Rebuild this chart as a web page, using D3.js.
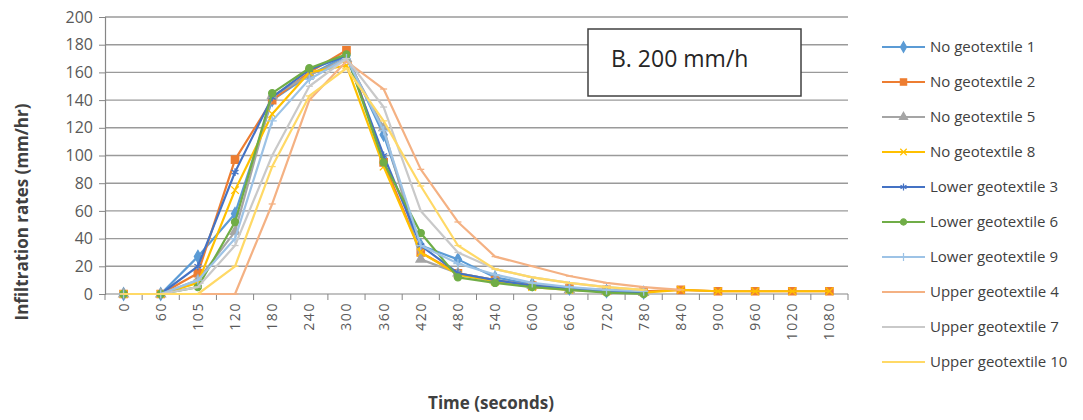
<!DOCTYPE html>
<html><head><meta charset="utf-8">
<script src="https://cdn.jsdelivr.net/npm/d3@7"></script>
<style>body{margin:0;background:#fff;} svg{display:block;font-family:"Open Sans",sans-serif;}</style>
</head><body>
<script>
const categories = ["0","60","105","120","180","240","300","360","420","480","540","600","660","720","780","840","900","960","1020","1080"];
const yTicks = [0,20,40,60,80,100,120,140,160,180,200];

const noGeo1   = [0,0,27,58,140,158,172,115,35,25,12,7,4,2,1,null,null,null,null,null];
const noGeo2   = [0,0,15,97,140,160,176,95,30,15,10,6,4,3,2,3,2,2,2,2];
const noGeo5   = [0,0,10,45,143,158,170,120,25,15,10,6,3,2,1,null,null,null,null,null];
const noGeo8   = [0,0,8,75,130,160,165,92,30,14,9,5,3,2,1,3,2,2,2,2];
const lower3   = [0,0,20,88,142,162,172,100,35,15,10,6,4,2,1,null,null,null,null,null];
const lower6   = [0,0,5,52,145,163,173,95,44,12,8,5,3,1,0,null,null,null,null,null];
const lower9   = [0,0,10,40,125,155,170,118,35,22,14,8,5,3,2,null,null,null,null,null];
const upper4   = [0,0,0,0,65,140,168,148,90,52,27,20,13,8,5,3,null,null,null,null];
const upper7   = [0,0,5,35,100,150,170,135,60,30,18,12,8,5,3,null,null,null,null,null];
const upper10  = [0,0,0,20,92,143,163,125,78,35,18,12,8,5,3,null,null,null,null,null];

const seriesNames = ["No geotextile 1","No geotextile 2","No geotextile 5","No geotextile 8","Lower geotextile 3","Lower geotextile 6","Lower geotextile 9","Upper geotextile 4","Upper geotextile 7","Upper geotextile 10"];
const seriesValues = [noGeo1,noGeo2,noGeo5,noGeo8,lower3,lower6,lower9,upper4,upper7,upper10];
const seriesColors = ["#5B9BD5","#ED7D31","#A5A5A5","#FFC000","#4472C4","#70AD47","#9DC3E6","#F4B183","#C9C9C9","#FFD966"];
const seriesMarkers = ["diamond","square","triangle","x","asterisk","circle","plus","dash","dash","dash"];

const W = 1083, H = 420;
const svg = d3.select("body").append("svg").attr("width", W).attr("height", H);

const x = d3.scaleBand().domain(categories).range([105, 848]);
const y = d3.scaleLinear().domain([0, 200]).range([294, 17]);

// gridlines
svg.append("g").selectAll("line").data(yTicks.filter(d => d > 0)).join("line")
  .attr("x1", 105).attr("x2", 848)
  .attr("y1", d => y(d)).attr("y2", d => y(d))
  .attr("stroke", "#9A9A9A").attr("stroke-width", 1.4);

// y axis
const yAxis = svg.append("g").attr("transform", "translate(105,0)")
  .call(d3.axisLeft(y).tickValues(yTicks).tickSize(6).tickPadding(6));
yAxis.select(".domain").attr("stroke", "#868686").attr("stroke-width", 1.2);
yAxis.selectAll(".tick line").attr("stroke", "#868686");
yAxis.selectAll("text").attr("font-size", 16).attr("fill", "#595959").attr("font-family", "Open Sans");

// x axis
const xAxisG = svg.append("g").attr("transform", `translate(0,${y(0)})`);
xAxisG.append("line").attr("x1", 105).attr("x2", 848).attr("y1", 0).attr("y2", 0)
  .attr("stroke", "#868686").attr("stroke-width", 1.2);
const boundaries = categories.map(c => x(c)).concat([x(categories[categories.length-1]) + x.bandwidth()]);
xAxisG.selectAll("line.tk").data(boundaries).join("line").attr("class","tk")
  .attr("x1", d => d).attr("x2", d => d).attr("y1", 0).attr("y2", 6)
  .attr("stroke", "#868686");
xAxisG.selectAll("text").data(categories).join("text")
  .attr("transform", d => `translate(${x(d) + x.bandwidth()/2 + 5},8) rotate(-90)`)
  .attr("text-anchor", "end")
  .attr("font-size", 14).attr("letter-spacing", 1.6).attr("fill", "#595959")
  .text(d => d);

// axis titles
svg.append("text").attr("x", 491).attr("y", 409).attr("text-anchor", "middle")
  .attr("font-weight", "bold").attr("font-size", 17).attr("fill", "#404040")
  .text("Time (seconds)");
svg.append("text").attr("transform", "translate(28,212) rotate(-90)").attr("text-anchor", "middle")
  .attr("font-weight", "bold").attr("font-size", 17).attr("fill", "#404040")
  .text("Infiltration rates (mm/hr)");

// lines
const cx = i => x(categories[i]) + x.bandwidth()/2;
const line = d3.line().defined(d => d.v != null).x(d => cx(d.i)).y(d => y(d.v));

function markerPath(type, size) {
  switch (type) {
    case "diamond": return d3.symbol(d3.symbolDiamond, size*size*0.9)();
    case "square": return d3.symbol(d3.symbolSquare, size*size*1.1)();
    case "triangle": return d3.symbol(d3.symbolTriangle, size*size*0.8)();
    case "x": return d3.symbol(d3.symbolTimes, size*size*0.8)();
    case "asterisk": return d3.symbol(d3.symbolAsterisk, size*size*0.9)();
    case "circle": return d3.symbol(d3.symbolCircle, size*size*0.8)();
    case "plus": return d3.symbol(d3.symbolPlus, size*size*0.6)();
    case "dash": return `M${-size/2},0L${size/2},0`;
  }
}
const filledTypes = new Set(["diamond","square","triangle","circle"]);

seriesValues.forEach((vals, k) => {
  const pts = vals.map((v, i) => ({i, v}));
  const g = svg.append("g");
  g.append("path").datum(pts).attr("d", line).attr("fill", "none")
    .attr("stroke", seriesColors[k]).attr("stroke-width", 2.2).attr("stroke-linejoin", "round");
  const t = seriesMarkers[k];
  g.selectAll("path.m").data(pts.filter(p => p.v != null)).join("path").attr("class","m")
    .attr("transform", p => `translate(${cx(p.i)},${y(p.v)})`)
    .attr("d", markerPath(t, 7))
    .attr("fill", filledTypes.has(t) ? seriesColors[k] : "none")
    .attr("stroke", seriesColors[k]).attr("stroke-width", 1.3);
});

// annotation box
svg.append("rect").attr("x", 588).attr("y", 29).attr("width", 213).attr("height", 67)
  .attr("fill", "#fff").attr("stroke", "#404040").attr("stroke-width", 1.5);
svg.append("text").attr("x", 611).attr("y", 67).attr("font-size", 23).attr("fill", "#262626")
  .text("B. 200 mm/h");

// legend
const leg = svg.append("g");
seriesNames.forEach((name, k) => {
  const ly = 47 + 35 * k;
  leg.append("line").attr("x1", 882).attr("x2", 925).attr("y1", ly).attr("y2", ly)
    .attr("stroke", seriesColors[k]).attr("stroke-width", 2.2);
  const t = seriesMarkers[k];
  leg.append("path").attr("transform", `translate(903.5,${ly})`).attr("d", markerPath(t, 6))
    .attr("fill", filledTypes.has(t) ? seriesColors[k] : "none")
    .attr("stroke", seriesColors[k]).attr("stroke-width", 1.2);
  leg.append("text").attr("x", 930).attr("y", ly + 5).attr("font-size", 15).attr("fill", "#404040")
    .text(name);
});
</script>
</body></html>
